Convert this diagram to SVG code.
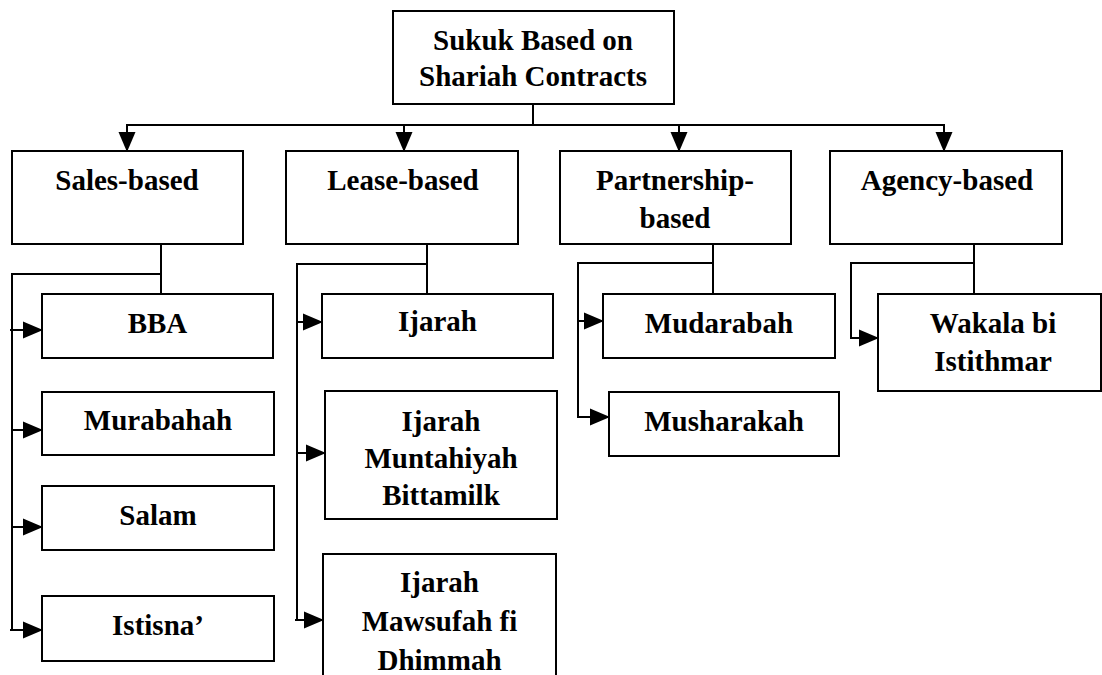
<svg xmlns="http://www.w3.org/2000/svg" width="1102" height="675" viewBox="0 0 1102 675">
  <style>
    .box { fill: #ffffff; stroke: #000000; stroke-width: 2; }
    .lbl { font-weight: bold; font-size: 29px; fill: #000000; text-anchor: middle; }
    .ln { fill: none; stroke: #000000; stroke-width: 2; }
    .arr { fill: none; stroke: #000000; stroke-width: 2; marker-end: url(#ah); }
  </style>
  <defs>
    <marker id="ah" markerUnits="userSpaceOnUse" viewBox="0 0 20 17" markerWidth="20" markerHeight="17" refX="19" refY="8.5" orient="auto" overflow="visible">
      <path d="M0,0 L20,8.5 L0,17 z" fill="#000000"/>
    </marker>
  </defs>
  <rect width="1102" height="675" fill="#ffffff"/>

  <g id="connectors">
    <line class="ln" x1="533" y1="104" x2="533" y2="125"/>
    <line class="ln" x1="126" y1="125" x2="945" y2="125"/>
    <line class="arr" x1="127" y1="125" x2="127" y2="151"/>
    <line class="arr" x1="404" y1="125" x2="404" y2="151"/>
    <line class="arr" x1="679" y1="125" x2="679" y2="151"/>
    <line class="arr" x1="944" y1="125" x2="944" y2="151"/>

    <polyline class="ln" points="161,244 161,294"/>
    <polyline class="ln" points="161,274 12,274 12,630"/>
    <line class="arr" x1="10" y1="330" x2="42" y2="330"/>
    <line class="arr" x1="11" y1="430" x2="42" y2="430"/>
    <line class="arr" x1="11" y1="527" x2="42" y2="527"/>
    <line class="arr" x1="10" y1="630" x2="42" y2="630"/>

    <polyline class="ln" points="427,238 427,294"/>
    <polyline class="ln" points="427,264 297,264 297,620"/>
    <line class="arr" x1="296" y1="322" x2="322" y2="322"/>
    <line class="arr" x1="296" y1="453" x2="325" y2="453"/>
    <line class="arr" x1="295" y1="620" x2="323" y2="620"/>

    <polyline class="ln" points="713,244 713,294"/>
    <polyline class="ln" points="714,263 578,263 578,417"/>
    <line class="arr" x1="577" y1="321" x2="603" y2="321"/>
    <line class="arr" x1="577" y1="417" x2="609" y2="417"/>

    <polyline class="ln" points="974,244 974,294"/>
    <polyline class="ln" points="974,263 851,263 851,338"/>
    <line class="arr" x1="850" y1="338" x2="878" y2="338"/>
  </g>

  <g font-family="Liberation Serif, DejaVu Serif, serif">
  <g id="root">
    <rect class="box" x="393" y="11" width="281" height="93"/>
    <text class="lbl" x="533" y="50">Sukuk Based on</text>
    <text class="lbl" x="533" y="86">Shariah Contracts</text>
  </g>

  <g id="sales-based">
    <rect class="box" x="12" y="151" width="231" height="93"/>
    <text class="lbl" x="127" y="190">Sales-based</text>
  </g>
  <g id="lease-based">
    <rect class="box" x="286" y="151" width="232" height="93"/>
    <text class="lbl" x="403" y="190">Lease-based</text>
  </g>
  <g id="partnership-based">
    <rect class="box" x="560" y="151" width="231" height="93"/>
    <text class="lbl" x="675" y="190">Partnership-</text>
    <text class="lbl" x="675" y="228">based</text>
  </g>
  <g id="agency-based">
    <rect class="box" x="830" y="151" width="232" height="93"/>
    <text class="lbl" x="947" y="190">Agency-based</text>
  </g>

  <g id="bba">
    <rect class="box" x="42" y="294" width="231" height="64"/>
    <text class="lbl" x="157.5" y="333">BBA</text>
  </g>
  <g id="murabahah">
    <rect class="box" x="42" y="392" width="232" height="63"/>
    <text class="lbl" x="158" y="430">Murabahah</text>
  </g>
  <g id="salam">
    <rect class="box" x="42" y="486" width="232" height="64"/>
    <text class="lbl" x="158" y="525">Salam</text>
  </g>
  <g id="istisna">
    <rect class="box" x="42" y="596" width="232" height="65"/>
    <text class="lbl" x="158" y="635">Istisna’</text>
  </g>

  <g id="ijarah">
    <rect class="box" x="322" y="294" width="231" height="64"/>
    <text class="lbl" x="437.5" y="331">Ijarah</text>
  </g>
  <g id="ijarah-muntahiyah-bittamilk">
    <rect class="box" x="325" y="391" width="232" height="128"/>
    <text class="lbl" x="441" y="431">Ijarah</text>
    <text class="lbl" x="441" y="468">Muntahiyah</text>
    <text class="lbl" x="441" y="505">Bittamilk</text>
  </g>
  <g id="ijarah-mawsufah-fi-dhimmah">
    <rect class="box" x="323" y="554" width="233" height="130"/>
    <text class="lbl" x="439.5" y="592">Ijarah</text>
    <text class="lbl" x="439.5" y="631">Mawsufah fi</text>
    <text class="lbl" x="439.5" y="670">Dhimmah</text>
  </g>

  <g id="mudarabah">
    <rect class="box" x="603" y="294" width="232" height="64"/>
    <text class="lbl" x="719" y="333">Mudarabah</text>
  </g>
  <g id="musharakah">
    <rect class="box" x="609" y="392" width="230" height="64"/>
    <text class="lbl" x="724" y="431">Musharakah</text>
  </g>

  <g id="wakala-bi-istithmar">
    <rect class="box" x="878" y="294" width="223" height="97"/>
    <text class="lbl" x="993" y="333">Wakala bi</text>
    <text class="lbl" x="993" y="371">Istithmar</text>
  </g>
  </g>
</svg>
